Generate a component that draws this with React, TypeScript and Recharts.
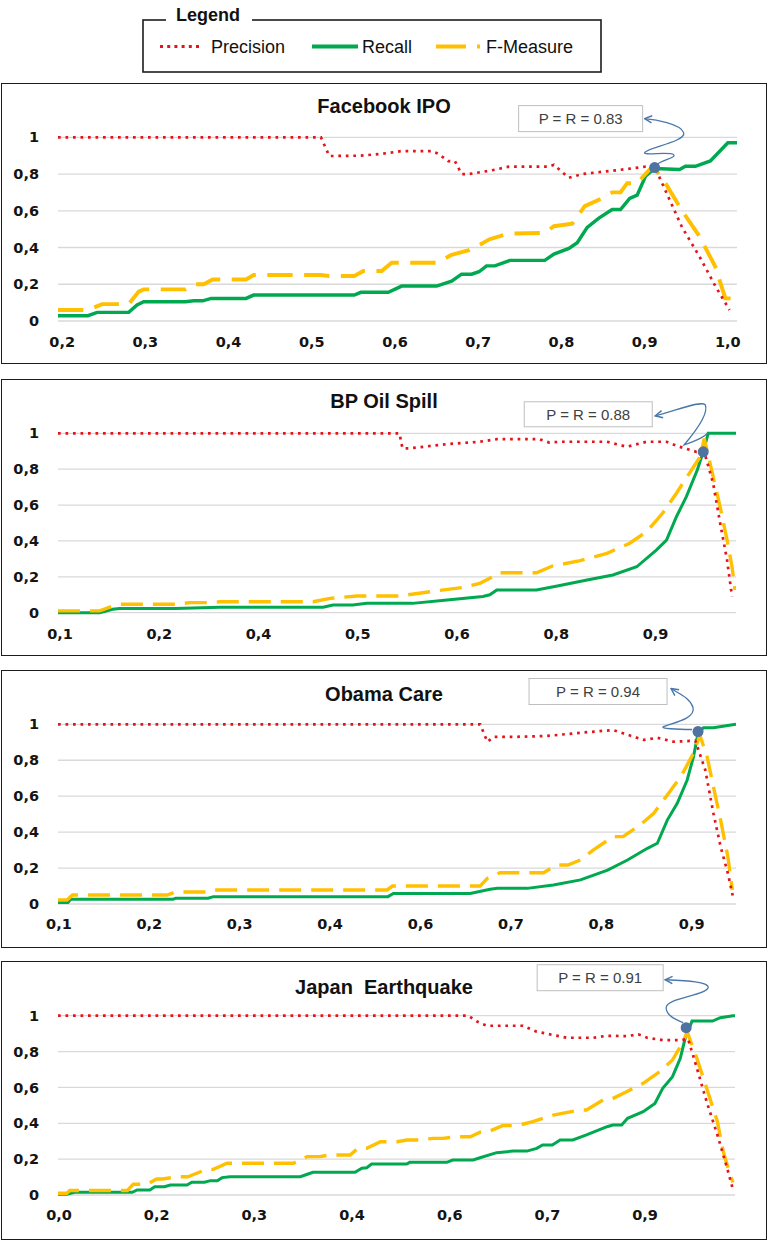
import React from "react";
import { LineChart, Line, XAxis, YAxis, CartesianGrid, ReferenceDot } from "recharts";

type Pt = [number, number]; // [category position, value]

// ---------- shared ----------
const yTickValues = [0, 0.2, 0.4, 0.6, 0.8, 1];
const yTickLabels = ["0", "0,2", "0,4", "0,6", "0,8", "1"];
const seriesNames = ["Precision", "Recall", "F-Measure"];

// ---------- Facebook IPO ----------
const fbTickLabels = ["0,2", "0,3", "0,4", "0,5", "0,6", "0,7", "0,8", "0,9", "1,0"];
const fbPrecision: Pt[] = [
  [-0.5, 1], [31.1, 1], [32.1, 0.898], [35.9, 0.9], [38.4, 0.91], [40.8, 0.925], [44.4, 0.925],
  [45.2, 0.91], [46.4, 0.87], [47.2, 0.87], [48.0, 0.8], [48.9, 0.8], [51.6, 0.82], [53.7, 0.84],
  [58.5, 0.84], [59.1, 0.85], [60.1, 0.81], [60.9, 0.78], [62.5, 0.8], [66.5, 0.82], [70.1, 0.84],
  [71.2, 0.84], [71.8, 0.78], [74.5, 0.51], [76.6, 0.35], [78.5, 0.19], [80.2, 0.06],
];
const fbRecall: Pt[] = [
  [-0.5, 0.029], [3.1, 0.029], [4.2, 0.047], [8.0, 0.047], [9.0, 0.087], [9.8, 0.105], [14.8, 0.105],
  [15.8, 0.11], [16.9, 0.11], [17.9, 0.123], [22.1, 0.123], [23.0, 0.141], [35.1, 0.141], [35.9, 0.156],
  [39.2, 0.156], [40.8, 0.19], [45.0, 0.19], [46.8, 0.217], [48.0, 0.255], [49.2, 0.255], [50.1, 0.268],
  [51.0, 0.3], [52.0, 0.3], [53.8, 0.33], [58.0, 0.33], [59.1, 0.364], [60.9, 0.395], [61.9, 0.426],
  [63.1, 0.51], [64.5, 0.56], [66.1, 0.607], [67.1, 0.607], [68.2, 0.667], [69.1, 0.685], [70.1, 0.788],
  [71.2, 0.83], [74.2, 0.825], [74.9, 0.842], [76.1, 0.842], [77.9, 0.871], [80.0, 0.97], [81.1, 0.97],
];
const fbFMeasure: Pt[] = [
  [-0.5, 0.06], [3.1, 0.06], [4.8, 0.092], [8.0, 0.092], [9.2, 0.16], [9.8, 0.172], [14.8, 0.172],
  [15.8, 0.2], [17.0, 0.2], [18.1, 0.226], [22.1, 0.226], [23.0, 0.25], [31.1, 0.25], [32.1, 0.245],
  [35.1, 0.245], [36.2, 0.272], [38.4, 0.272], [39.6, 0.317], [45.0, 0.317], [46.8, 0.36], [48.9, 0.386],
  [50.4, 0.42], [51.3, 0.444], [53.7, 0.476], [58.0, 0.48], [59.1, 0.516], [61.3, 0.53], [62.8, 0.625],
  [64.5, 0.66], [66.1, 0.7], [67.1, 0.7], [67.9, 0.75], [69.1, 0.75], [70.6, 0.825], [71.2, 0.83],
  [72.5, 0.75], [74.5, 0.6], [76.6, 0.46], [78.5, 0.295], [79.7, 0.123], [80.9, 0.123],
];
const fbCrossing: Pt = [71.2, 0.835];

// ---------- BP Oil Spill ----------
const bpTickLabels = ["0,1", "0,2", "0,4", "0,5", "0,6", "0,8", "0,9"];
const bpPrecision: Pt[] = [
  [-0.2, 1], [34.2, 1], [34.5, 0.916], [35.2, 0.916], [39.0, 0.94], [42.3, 0.953], [44.0, 0.967],
  [48.3, 0.967], [49.3, 0.948], [50.4, 0.953], [55.1, 0.953], [57.1, 0.925], [59.1, 0.953], [61.1, 0.953],
  [62.4, 0.925], [64.1, 0.897], [64.9, 0.897], [65.8, 0.72], [66.5, 0.5], [67.2, 0.294], [67.7, 0.09],
];
const bpRecall: Pt[] = [
  [-0.2, 0], [4.0, 0], [5.3, 0.019], [6.0, 0.024], [11.6, 0.024], [16.1, 0.03], [26.5, 0.03],
  [27.5, 0.043], [29.5, 0.043], [30.9, 0.052], [35.5, 0.052], [39.0, 0.071], [42.6, 0.09], [43.3, 0.1],
  [44.0, 0.127], [48.0, 0.127], [50.1, 0.149], [53.1, 0.182], [55.7, 0.21], [58.1, 0.256], [60.1, 0.35],
  [61.1, 0.405], [62.1, 0.535], [63.1, 0.647], [64.2, 0.795], [64.8, 0.897], [65.3, 1], [68.1, 1],
];
const bpFMeasure: Pt[] = [
  [-0.2, 0.01], [4.0, 0.01], [5.3, 0.037], [6.0, 0.047], [11.6, 0.047], [13.1, 0.056], [15.4, 0.056],
  [16.1, 0.061], [25.5, 0.061], [27.2, 0.08], [29.9, 0.093], [34.2, 0.093], [37.3, 0.117], [40.6, 0.141],
  [42.3, 0.164], [43.6, 0.2], [44.3, 0.223], [48.0, 0.223], [49.6, 0.26], [52.4, 0.29], [55.1, 0.331],
  [57.4, 0.387], [59.1, 0.452], [60.7, 0.554], [62.1, 0.666], [63.4, 0.777], [64.5, 0.87], [64.9, 0.97],
  [65.8, 0.758], [66.5, 0.59], [67.2, 0.405], [67.7, 0.256], [68.0, 0.127],
];
const bpCrossing: Pt = [64.8, 0.897];

// ---------- Obama Care ----------
const ocTickLabels = ["0,1", "0,2", "0,3", "0,4", "0,6", "0,7", "0,8", "0,9"];
const ocPrecision: Pt[] = [
  [-0.1, 1], [46.6, 1], [47.4, 0.903], [48.1, 0.93], [50.3, 0.93], [54.0, 0.935], [57.7, 0.953],
  [61.3, 0.968], [62.4, 0.95], [64.7, 0.913], [66.2, 0.925], [68.0, 0.903], [70.4, 0.909], [71.5, 0.746],
  [72.4, 0.505], [73.2, 0.319], [74.0, 0.171], [74.6, 0.032],
];
const ocRecall: Pt[] = [
  [-0.1, 0.008], [1.0, 0.008], [1.3, 0.026], [12.6, 0.026], [12.9, 0.032], [16.5, 0.032], [17.1, 0.041],
  [36.4, 0.041], [37.0, 0.059], [45.5, 0.059], [47.7, 0.082], [48.5, 0.087], [51.8, 0.087], [54.7, 0.106],
  [57.7, 0.134], [60.7, 0.189], [62.9, 0.245], [65.1, 0.31], [66.2, 0.338], [67.3, 0.467], [68.4, 0.56],
  [69.5, 0.69], [70.2, 0.82], [70.7, 0.95], [71.3, 0.981], [72.4, 0.981], [74.9, 1],
];
const ocFMeasure: Pt[] = [
  [-0.1, 0.022], [0.9, 0.022], [1.5, 0.05], [12.0, 0.05], [12.9, 0.067], [16.4, 0.067], [17.1, 0.078],
  [36.3, 0.078], [36.9, 0.1], [46.6, 0.1], [47.4, 0.143], [48.8, 0.174], [53.6, 0.174], [55.1, 0.217],
  [56.3, 0.217], [57.7, 0.245], [59.1, 0.3], [61.3, 0.375], [62.4, 0.375], [64.3, 0.44], [65.8, 0.505],
  [67.3, 0.607], [68.8, 0.709], [70.2, 0.839], [70.9, 0.94], [71.7, 0.82], [72.4, 0.653], [73.2, 0.467],
  [74.0, 0.263], [74.5, 0.078],
];
const ocCrossing: Pt = [70.7, 0.96];

// ---------- Japan Earthquake ----------
const jeTickLabels = ["0,0", "0,2", "0,3", "0,4", "0,6", "0,7", "0,9"];
const jePrecision: Pt[] = [
  [-0.1, 1], [41.9, 1], [42.8, 0.967], [43.8, 0.944], [47.5, 0.944], [48.9, 0.911], [50.6, 0.892],
  [52.0, 0.877], [54.7, 0.877], [56.1, 0.888], [58.1, 0.886], [59.3, 0.896], [60.2, 0.877], [61.8, 0.864],
  [63.6, 0.864], [64.4, 0.87], [65.3, 0.707], [66.3, 0.52], [67.4, 0.335], [68.4, 0.149], [69.0, 0.028],
];
const jeRecall: Pt[] = [
  [-0.1, 0.004], [0.8, 0.004], [1.6, 0.015], [7.5, 0.015], [8.0, 0.028], [9.3, 0.028], [9.8, 0.046],
  [10.8, 0.046], [11.4, 0.056], [13.1, 0.056], [13.6, 0.071], [14.9, 0.071], [15.5, 0.08], [16.2, 0.08],
  [16.7, 0.097], [17.5, 0.102], [24.7, 0.102], [25.5, 0.117], [26.0, 0.127], [30.3, 0.127], [31.0, 0.149],
  [31.5, 0.152], [32.0, 0.173], [35.6, 0.173], [35.9, 0.182], [39.7, 0.182], [40.3, 0.195], [42.4, 0.195],
  [43.1, 0.208], [44.8, 0.236], [46.5, 0.245], [47.9, 0.245], [48.9, 0.26], [49.5, 0.279], [50.5, 0.279],
  [51.3, 0.307], [52.6, 0.307], [54.0, 0.335], [56.1, 0.381], [56.7, 0.39], [57.6, 0.39], [58.2, 0.428],
  [59.8, 0.465], [61.0, 0.511], [61.8, 0.595], [62.8, 0.66], [63.6, 0.762], [64.1, 0.874], [64.8, 0.97],
  [66.9, 0.97], [67.7, 0.989], [69.0, 1], [69.2, 1],
];
const jeFMeasure: Pt[] = [
  [-0.1, 0.01], [0.8, 0.01], [1.1, 0.025], [7.0, 0.025], [7.6, 0.06], [9.0, 0.06], [10.0, 0.089],
  [10.6, 0.089], [12.1, 0.102], [13.2, 0.102], [15.1, 0.143], [15.8, 0.143], [17.2, 0.177], [24.0, 0.177],
  [25.4, 0.214], [26.7, 0.214], [27.7, 0.223], [29.8, 0.223], [30.6, 0.26], [31.5, 0.26], [32.9, 0.297],
  [34.6, 0.297], [35.6, 0.307], [36.6, 0.307], [38.3, 0.316], [39.3, 0.316], [40.7, 0.325], [42.1, 0.325],
  [43.1, 0.35], [43.8, 0.35], [45.4, 0.387], [46.9, 0.387], [48.5, 0.409], [50.6, 0.446], [53.3, 0.474],
  [54.0, 0.474], [55.7, 0.53], [56.4, 0.53], [58.1, 0.576], [59.8, 0.623], [61.5, 0.688], [62.8, 0.753],
  [63.9, 0.855], [64.3, 0.911], [65.3, 0.762], [66.3, 0.595], [67.4, 0.409], [68.0, 0.241], [68.7, 0.112],
  [69.0, 0.07],
];
const jeCrossing: Pt = [64.2, 0.933];

// ---------- styling ----------
const PRECISION_COLOR = "#e4141b";
const RECALL_COLOR = "#00a84f";
const FMEASURE_COLOR = "#ffc000";
const MARKER_COLOR = "#4f72a3";
const ARROW_COLOR = "#4a78ab";
const TEXT_FONT = "'Liberation Sans', Arial, sans-serif";
const TICK_FONT = "'DejaVu Sans', Verdana, sans-serif";

const toRows = (pts: Pt[]) => pts.map(([p, v]) => ({ p, v }));

type Box = { l: number; r: number; t: number; b: number };

const makeCallout = (label: string, box: Box, path: string, id: string) => (props: any) => {
  const { cx, cy } = props;
  if (cx == null || cy == null) return <g />;
  return (
    <g>
      <defs>
        <marker id={id} viewBox="0 0 10 10" refX="9" refY="5" markerWidth="7" markerHeight="7" orient="auto">
          <path d="M1,1 L9,5 L1,9" fill="none" stroke={ARROW_COLOR} strokeWidth="1.6" />
        </marker>
      </defs>
      <rect x={cx + box.l} y={cy + box.t} width={box.r - box.l} height={box.b - box.t} fill="#ffffff" stroke="#bfbfbf" strokeWidth={1} />
      <text
        x={cx + (box.l + box.r) / 2}
        y={cy + (box.t + box.b) / 2 + 5.5}
        textAnchor="middle"
        fontFamily={TEXT_FONT}
        fontSize={15}
        fill="#404040"
      >
        {label}
      </text>
      <path d={path} transform={`translate(${cx},${cy})`} fill="none" stroke={ARROW_COLOR} strokeWidth={1.3} markerEnd={`url(#${id})`} />
      <circle cx={cx} cy={cy} r={5.5} fill={MARKER_COLOR} />
    </g>
  );
};

type PanelProps = {
  id: string;
  title: string;
  top: number;
  height: number;
  titleTop: number;
  plotTop: number;
  xAxisHeight: number;
  rightMargin: number;
  xTickMargin: number;
  domain: [number, number];
  tickLabels: string[];
  precision: Pt[];
  recall: Pt[];
  fmeasure: Pt[];
  crossing: Pt;
  callout: string;
  box: Box;
  arrow: string;
  lineScale: number;
};

const tickStyle = { fontFamily: TICK_FONT, fontWeight: "bold", fontSize: 14.5, fill: "#141414" };

const Panel = (pp: PanelProps) => {
  const ticks = pp.tickLabels.map((_, i) => i * 10);
  const shape = makeCallout(pp.callout, pp.box, pp.arrow, `arrow-${pp.id}`);
  return (
    <>
      <div
        style={{
          position: "absolute",
          left: 1,
          top: pp.top,
          width: 766,
          height: pp.height,
          boxSizing: "border-box",
          border: "1.6px solid #1c1c1c",
        }}
      />
      <div
        style={{
          position: "absolute",
          left: 1,
          top: pp.titleTop,
          width: 766,
          textAlign: "center",
          fontFamily: TEXT_FONT,
          fontWeight: "bold",
          fontSize: 20,
          lineHeight: "20px",
          whiteSpace: "pre",
          color: "#111",
        }}
      >
        {pp.title}
      </div>
      <div style={{ position: "absolute", left: 1, top: pp.top }}>
        <LineChart width={766} height={pp.height} margin={{ top: pp.plotTop, right: pp.rightMargin, bottom: 0, left: 0 }}>
          <CartesianGrid horizontal vertical={false} stroke="#d9d9d9" strokeWidth={1.3} />
          <XAxis
            dataKey="p"
            type="number"
            domain={pp.domain}
            ticks={ticks}
            interval={0}
            allowDataOverflow
            tickFormatter={(v: number) => pp.tickLabels[Math.round(v / 10)]}
            axisLine={false}
            tickLine={false}
            tickSize={0}
            tickMargin={pp.xTickMargin}
            height={pp.xAxisHeight}
            tick={tickStyle}
          />
          <YAxis
            type="number"
            domain={[0, 1]}
            ticks={yTickValues}
            interval={0}
            tickFormatter={(v: number) => yTickLabels[yTickValues.indexOf(v)] ?? String(v)}
            axisLine={false}
            tickLine={false}
            tickSize={0}
            tickMargin={19}
            width={57}
            tick={tickStyle}
          />
          <Line
            data={toRows(pp.recall)}
            dataKey="v"
            name={seriesNames[1]}
            type="linear"
            stroke={RECALL_COLOR}
            strokeWidth={3 * pp.lineScale}
            dot={false}
            activeDot={false}
            isAnimationActive={false}
          />
          <Line
            data={toRows(pp.fmeasure)}
            dataKey="v"
            name={seriesNames[2]}
            type="linear"
            stroke={FMEASURE_COLOR}
            strokeWidth={3.4 * pp.lineScale}
            strokeDasharray={`${22 * pp.lineScale} ${10 * pp.lineScale}`}
            dot={false}
            activeDot={false}
            isAnimationActive={false}
          />
          <Line
            data={toRows(pp.precision)}
            dataKey="v"
            name={seriesNames[0]}
            type="linear"
            stroke={PRECISION_COLOR}
            strokeWidth={2.7}
            strokeDasharray="2.7 4.8"
            dot={false}
            activeDot={false}
            isAnimationActive={false}
          />
          <ReferenceDot x={pp.crossing[0]} y={pp.crossing[1]} r={5.5} shape={shape} />
        </LineChart>
      </div>
    </>
  );
};

const LegendBox = () => (
  <svg width={769} height={80} style={{ position: "absolute", left: 0, top: 0 }}>
    <rect x={143} y={20} width={458} height={52} fill="none" stroke="#1c1c1c" strokeWidth={1.6} />
    <rect x={166} y={10} width={86} height={18} fill="#ffffff" />
    <text x={176} y={21} fontFamily={TEXT_FONT} fontWeight="bold" fontSize={18} fill="#111">
      Legend
    </text>
    <line x1={160} y1={46.5} x2={203} y2={46.5} stroke={PRECISION_COLOR} strokeWidth={3} strokeDasharray="3 4.2" />
    <text x={211} y={52.7} fontFamily={TEXT_FONT} fontSize={18} fill="#111">
      {seriesNames[0]}
    </text>
    <line x1={312} y1={46.5} x2={358} y2={46.5} stroke={RECALL_COLOR} strokeWidth={4} />
    <text x={362} y={52.7} fontFamily={TEXT_FONT} fontSize={18} fill="#111">
      {seriesNames[1]}
    </text>
    <line x1={436} y1={46.5} x2={480} y2={46.5} stroke={FMEASURE_COLOR} strokeWidth={4} strokeDasharray="30 11" />
    <text x={486} y={52.7} fontFamily={TEXT_FONT} fontSize={18} fill="#111">
      {seriesNames[2]}
    </text>
  </svg>
);

export default function App() {
  return (
    <div style={{ position: "absolute", left: 0, top: 0, width: 769, height: 1242, background: "#ffffff", overflow: "hidden" }}>
      <LegendBox />
      <Panel
        id="fb"
        title="Facebook IPO"
        top={83}
        height={281}
        titleTop={96}
        plotTop={54.3}
        xAxisHeight={43}
        rightMargin={30}
        xTickMargin={16}
        domain={[-0.5, 81.1]}
        tickLabels={fbTickLabels}
        precision={fbPrecision}
        recall={fbRecall}
        fmeasure={fbFMeasure}
        crossing={fbCrossing}
        callout="P = R = 0.83"
        box={{ l: -136, r: -12, t: -62, b: -36 }}
        arrow="M 2 -3 C 8 -8, 22 -10, 19 -13 C 16 -16, -12 -12, -10 -15 C -8 -20, 32 -26, 29 -35 C 26 -44, 0 -48, -10 -49"
        lineScale={1.15}
      />
      <Panel
        id="bp"
        title="BP Oil Spill"
        top={379}
        height={277}
        titleTop={390.5}
        plotTop={54.3}
        xAxisHeight={43.3}
        rightMargin={31}
        xTickMargin={16}
        domain={[-0.2, 68.1]}
        tickLabels={bpTickLabels}
        precision={bpPrecision}
        recall={bpRecall}
        fmeasure={bpFMeasure}
        crossing={bpCrossing}
        callout="P = R = 0.88"
        box={{ l: -179, r: -51, t: -50, b: -25 }}
        arrow="M 5 -19 C 0 -14, -12 -9, -19 -7 C -8 -20, 6 -38, 2 -47 C -2 -52, -30 -40, -48 -36"
        lineScale={1}
      />
      <Panel
        id="oc"
        title="Obama Care"
        top={670}
        height={278}
        titleTop={684}
        plotTop={54.3}
        xAxisHeight={44}
        rightMargin={31}
        xTickMargin={15}
        domain={[-0.1, 74.9]}
        tickLabels={ocTickLabels}
        precision={ocPrecision}
        recall={ocRecall}
        fmeasure={ocFMeasure}
        crossing={ocCrossing}
        callout="P = R = 0.94"
        box={{ l: -169, r: -31, t: -53, b: -27 }}
        arrow="M -6 -2 C -20 -2, -40 -3, -34 -5 C -28 -8, -2 -12, -5 -24 C -8 -34, -20 -38, -27 -43"
        lineScale={1}
      />
      <Panel
        id="je"
        title="Japan  Earthquake"
        top={961}
        height={279}
        titleTop={977}
        plotTop={54.7}
        xAxisHeight={45}
        rightMargin={32}
        xTickMargin={15}
        domain={[-0.1, 69.2]}
        tickLabels={jeTickLabels}
        precision={jePrecision}
        recall={jeRecall}
        fmeasure={jeFMeasure}
        crossing={jeCrossing}
        callout="P = R = 0.91"
        box={{ l: -149, r: -23, t: -63, b: -37 }}
        arrow="M -3 -5 C -10 -8, -20 -12, -20 -20 C -20 -30, 20 -32, 22 -40 C 23 -46, 0 -47, -21 -48"
        lineScale={1}
      />
    </div>
  );
}
